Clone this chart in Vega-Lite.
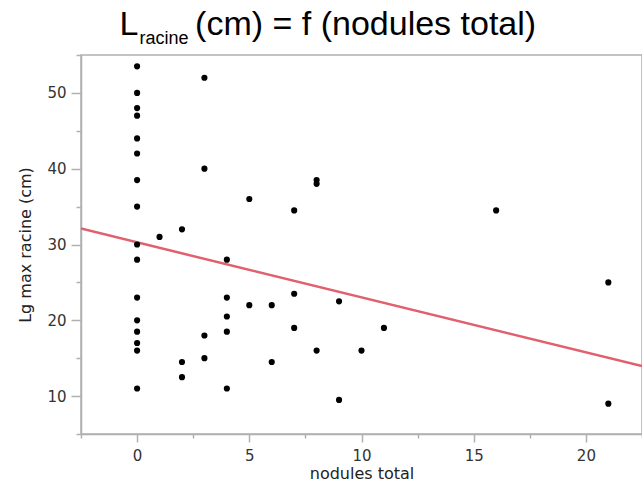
{
  "$schema": "https://vega.github.io/schema/vega-lite/v6.json",
  "width": 561,
  "height": 379,
  "autosize": {"type": "none"},
  "padding": {"left": 81, "top": 55, "right": 0, "bottom": 48},
  "background": "white",
  "config": {
    "view": {"stroke": "#b0b0b0", "strokeWidth": 1.5},
    "axis": {
      "grid": false,
      "domainColor": "#b0b0b0",
      "domainWidth": 1.5,
      "tickColor": "#b0b0b0",
      "tickWidth": 1.5,
      "labelFont": "DejaVu Sans",
      "labelFontSize": 15,
      "labelColor": "#333333",
      "titleFont": "DejaVu Sans",
      "titleFontSize": 16,
      "titleFontWeight": "normal",
      "titleColor": "#222222",
      "labelOverlap": false,
      "labelFlush": false,
      "labelBound": false
    }
  },
  "title": {
    "text": "L\u00a0\u00a0\u00a0\u00a0\u00a0\u00a0(cm) = f (nodules total)",
    "subtitle": "\u200b\u00a0\u00a0\u00a0\u00a0racine",
    "anchor": "start",
    "frame": "group",
    "dx": 38.5,
    "font": "Liberation Sans",
    "fontSize": 34,
    "fontWeight": "normal",
    "color": "#000000",
    "subtitleFont": "Liberation Sans",
    "subtitleFontSize": 18,
    "subtitleColor": "#000000",
    "subtitlePadding": -12,
    "offset": 0
  },
  "datasets": {
    "points": [
      {"nodules_total": 0, "lg_max_racine": 53.5},
      {"nodules_total": 0, "lg_max_racine": 50},
      {"nodules_total": 0, "lg_max_racine": 48},
      {"nodules_total": 0, "lg_max_racine": 47},
      {"nodules_total": 0, "lg_max_racine": 44},
      {"nodules_total": 0, "lg_max_racine": 42},
      {"nodules_total": 0, "lg_max_racine": 38.5},
      {"nodules_total": 0, "lg_max_racine": 35},
      {"nodules_total": 0, "lg_max_racine": 30},
      {"nodules_total": 0, "lg_max_racine": 28},
      {"nodules_total": 0, "lg_max_racine": 23},
      {"nodules_total": 0, "lg_max_racine": 20},
      {"nodules_total": 0, "lg_max_racine": 18.5},
      {"nodules_total": 0, "lg_max_racine": 17},
      {"nodules_total": 0, "lg_max_racine": 16},
      {"nodules_total": 0, "lg_max_racine": 11},
      {"nodules_total": 1, "lg_max_racine": 31},
      {"nodules_total": 2, "lg_max_racine": 32},
      {"nodules_total": 2, "lg_max_racine": 14.5},
      {"nodules_total": 2, "lg_max_racine": 12.5},
      {"nodules_total": 3, "lg_max_racine": 52},
      {"nodules_total": 3, "lg_max_racine": 40},
      {"nodules_total": 3, "lg_max_racine": 18},
      {"nodules_total": 3, "lg_max_racine": 15},
      {"nodules_total": 4, "lg_max_racine": 28},
      {"nodules_total": 4, "lg_max_racine": 23},
      {"nodules_total": 4, "lg_max_racine": 20.5},
      {"nodules_total": 4, "lg_max_racine": 18.5},
      {"nodules_total": 4, "lg_max_racine": 11},
      {"nodules_total": 5, "lg_max_racine": 36},
      {"nodules_total": 5, "lg_max_racine": 22},
      {"nodules_total": 6, "lg_max_racine": 22},
      {"nodules_total": 6, "lg_max_racine": 14.5},
      {"nodules_total": 7, "lg_max_racine": 34.5},
      {"nodules_total": 7, "lg_max_racine": 23.5},
      {"nodules_total": 7, "lg_max_racine": 19},
      {"nodules_total": 8, "lg_max_racine": 38.5},
      {"nodules_total": 8, "lg_max_racine": 38},
      {"nodules_total": 8, "lg_max_racine": 16},
      {"nodules_total": 9, "lg_max_racine": 22.5},
      {"nodules_total": 9, "lg_max_racine": 9.5},
      {"nodules_total": 10, "lg_max_racine": 16},
      {"nodules_total": 11, "lg_max_racine": 19},
      {"nodules_total": 16, "lg_max_racine": 34.5},
      {"nodules_total": 21, "lg_max_racine": 25},
      {"nodules_total": 21, "lg_max_racine": 9}
    ],
    "fit": [
      {"nodules_total": -2.5, "lg_max_racine": 32.1},
      {"nodules_total": 22.5, "lg_max_racine": 13.95}
    ]
  },
  "encoding": {
    "x": {
      "field": "nodules_total",
      "type": "quantitative",
      "scale": {"domain": [-2.5, 22.5], "nice": false, "zero": false},
      "axis": {
        "title": "nodules total",
        "values": [-2.5, 0, 2.5, 5, 7.5, 10, 12.5, 15, 17.5, 20, 22.5],
        "labelExpr": "datum.value % 5 === 0 ? format(datum.value, 'd') : ''",
        "tickSize": {"condition": {"test": "datum.value % 5 === 0", "value": 8}, "value": 4},
        "labelPadding": 6,
        "titlePadding": 2
      }
    },
    "y": {
      "field": "lg_max_racine",
      "type": "quantitative",
      "scale": {"domain": [5, 55], "nice": false, "zero": false},
      "axis": {
        "title": "Lg max racine (cm)",
        "values": [5, 10, 15, 20, 25, 30, 35, 40, 45, 50, 55],
        "labelExpr": "datum.value % 10 === 0 ? format(datum.value, 'd') : ''",
        "tickSize": {"condition": {"test": "datum.value % 10 === 0", "value": 10}, "value": 5},
        "labelPadding": 5,
        "titlePadding": 13
      }
    }
  },
  "layer": [
    {
      "data": {"name": "fit"},
      "mark": {"type": "line", "color": "#e0606e", "strokeWidth": 2.5, "clip": true}
    },
    {
      "data": {"name": "points"},
      "mark": {"type": "circle", "color": "#000000", "size": 38, "opacity": 1}
    }
  ]
}
